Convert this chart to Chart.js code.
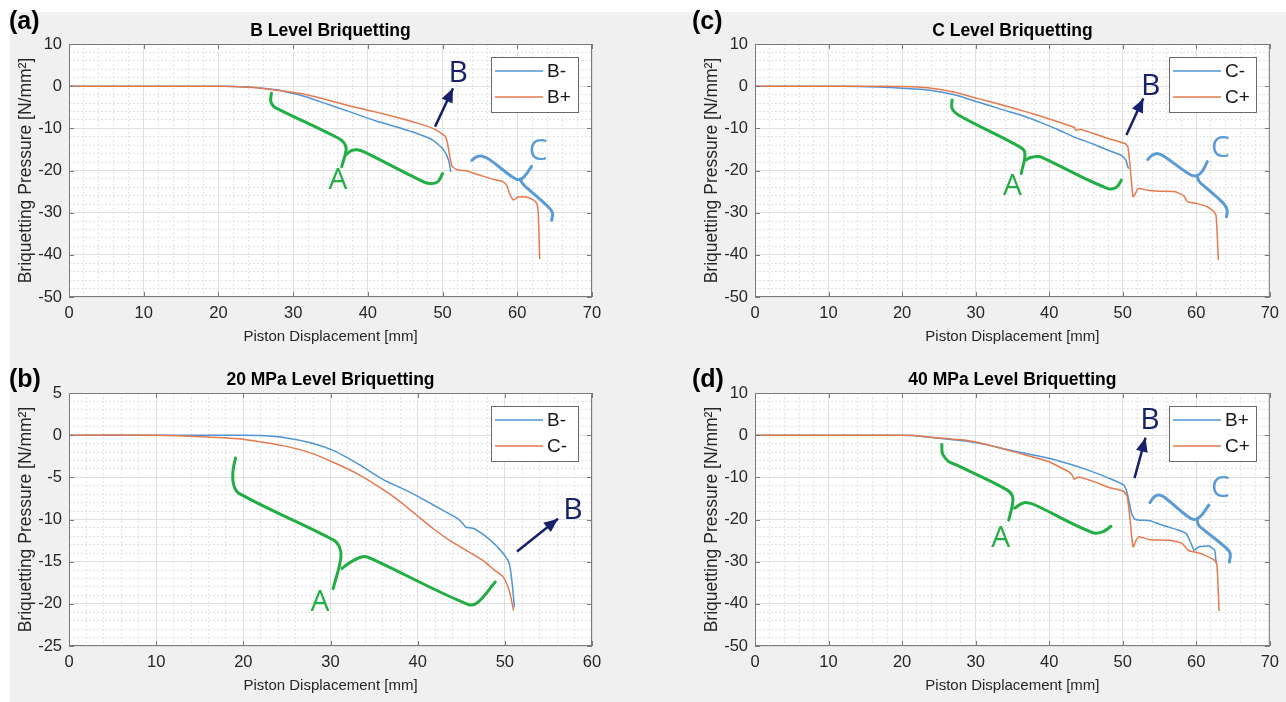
<!DOCTYPE html>
<html lang="en">
<head>
<meta charset="UTF-8">
<title>Briquetting Pressure vs Piston Displacement</title>
<script src="https://cdn.jsdelivr.net/npm/chart.js@4.4.1/dist/chart.umd.min.js"></script>
<style>
  body { margin: 0; width: 1286px; height: 702px; position: relative; overflow: hidden; background: #fff;
         font-family: "Liberation Sans", Arial, sans-serif; }
  #bg { position: absolute; left: 10px; top: 12px; width: 1276px; height: 690px; background: #f0f0f0; }
  .panel { position: absolute; }
  .tag { position: absolute; font-weight: bold; font-size: 25px; color: #000; }
</style>
</head>
<body>
<div id="bg"></div>
<div class="panel" style="left:0;top:0"><canvas id="chartA" width="640" height="350"></canvas></div>
<div class="panel" style="left:0;top:349px"><canvas id="chartB" width="640" height="350"></canvas></div>
<div class="panel" style="left:686px;top:0"><canvas id="chartC" width="600" height="350"></canvas></div>
<div class="panel" style="left:686px;top:349px"><canvas id="chartD" width="600" height="350"></canvas></div>
<div class="tag" style="left:9px;top:6px">(a)</div>
<div class="tag" style="left:9px;top:364px">(b)</div>
<div class="tag" style="left:692px;top:6px">(c)</div>
<div class="tag" style="left:692px;top:364px">(d)</div>

<script>
// ---- measured curves, [displacement mm, pressure N/mm2] ----

// (a) B level
const bMinusA = [[0,0],[20,0],[22,-0.05],[24.2,-0.2],[26,-0.5],[27.6,-0.8],[29,-1.3],[30.9,-2.1],[34,-3.9],
  [37.6,-6.1],[41,-8.2],[44.3,-9.9],[45.5,-10.6],[47,-11.5],[48.7,-12.8],[50.1,-15.0],[50.8,-17.5],[51.1,-20.3]];
const bPlusA = [[0,0],[20,0],[22,-0.1],[25,-0.4],[28,-1.0],[30.9,-1.7],[34,-3.0],[37.6,-4.7],[41,-6.1],
  [44.3,-7.6],[46.5,-8.7],[48.7,-10.0],[50.3,-11.8],[50.6,-13],[51.0,-17],[51.3,-19.1],[52.1,-19.9],[53.3,-20.1],
  [54.1,-20.6],[55.5,-21.4],[56.8,-22.1],[58.1,-22.7],[58.6,-23.6],[59.0,-25.6],[59.5,-27.0],[60.1,-26.3],
  [61.2,-26.3],[62.1,-26.9],[62.6,-27.8],[62.8,-30],[63.0,-41.0]];

// (b) 20 MPa level
const bMinusB = [[0,0],[20,0],[22,-0.05],[24.8,-0.3],[27.7,-0.9],[30.5,-1.9],[33.3,-3.5],[36.1,-5.3],[39,-6.7],
  [40.8,-7.7],[42.7,-8.8],[44.6,-9.9],[45.2,-10.5],[45.5,-10.9],[46.5,-11.1],[48.4,-12.5],[49.8,-14.0],
  [50.5,-15.2],[50.8,-17.2],[51.1,-20.4]];
const cMinusB = [[0,0],[10,0],[15.4,-0.2],[20.1,-0.5],[24.8,-1.3],[27.7,-2.1],[30.5,-3.3],[33.3,-4.7],[36.1,-6.5],
  [38,-7.9],[39.9,-9.5],[41.8,-11.1],[43.7,-12.5],[45.5,-13.6],[47.4,-14.8],[48.8,-16.0],[49.8,-16.8],
  [50.5,-18.4],[51.0,-20.8]];

// (c) C level
const cMinusC = [[0,0],[10,0],[14,-0.05],[16.8,-0.2],[20,-0.5],[23.5,-0.9],[27,-2.0],[30.2,-3.7],[33.5,-5.5],
  [36.9,-7.3],[39,-8.7],[41.3,-10.4],[43.6,-12.2],[45.8,-13.6],[48,-15.2],[49.8,-16.4],[50.4,-17.5],
  [50.7,-19.1],[50.8,-19.6]];
const cPlusC = [[0,0],[15,0],[20,-0.1],[23.5,-0.4],[27,-1.4],[30.2,-2.9],[33.5,-4.4],[36.9,-6.1],[39,-7.2],
  [41.3,-8.5],[43.4,-9.8],[43.7,-10.5],[44.2,-10.2],[45.8,-11.1],[48,-12.4],[50.3,-13.6],[50.7,-14.4],
  [51.0,-19],[51.4,-26.2],[51.7,-25.5],[52.1,-24.3],[53.4,-24.7],[55,-24.9],[57,-25.0],[58.3,-26.0],
  [58.8,-27.4],[60,-27.8],[61.5,-28.6],[62.4,-29.8],[62.7,-30.8],[63.0,-41.2]];

// (d) 40 MPa level
const bPlusD = [[0,0],[20,0],[21.5,-0.1],[23.2,-0.4],[26,-0.9],[28.7,-1.4],[31.5,-2.3],[34.3,-3.4],[37,-4.4],
  [39.8,-5.4],[43.1,-7.0],[45.3,-8.3],[48.1,-10.2],[50.1,-11.8],[50.6,-13.7],[51.2,-18.5],[51.7,-20.0],
  [53.7,-20.3],[55.3,-21.3],[57.5,-22.5],[58.6,-23.3],[59.2,-25.3],[59.7,-27.3],[60.3,-26.5],[61.7,-26.3],
  [62.5,-27.3],[62.7,-30.5]];
const cPlusD = [[0,0],[20,0],[21.5,-0.1],[23.2,-0.4],[26,-0.8],[28.7,-1.2],[31.5,-2.2],[34.3,-3.5],[37,-4.8],
  [39.8,-6.2],[41.5,-7.6],[42.6,-8.6],[43.1,-9.4],[43.4,-10.4],[44,-9.9],[46.4,-11.2],[48.1,-12.4],
  [50.1,-13.3],[50.6,-14.5],[51.0,-20],[51.4,-26.5],[51.8,-25],[52.2,-24.1],[53.7,-24.8],[56.4,-24.9],
  [58.1,-25.7],[58.9,-27.3],[60.8,-28.2],[62.5,-29.7],[62.8,-30.5],[63.1,-41.7]];

// ---- hand-drawn marks on the figure, in data units ----
const braceA_a = [[[27.1,-1.7],[27.0,-3.5],[27.4,-4.8],[28.2,-5.6],[36.0,-12.3],[36.8,-13.4],[37.1,-15.0],[36.5,-19.1]],
  [[37.1,-16.2],[37.8,-15.3],[38.6,-15.1],[39.5,-15.6],[47.6,-22.8],[48.6,-23.1],[49.4,-22.6],[50.0,-20.7]]];
const braceC_a = [[[53.9,-17.6],[54.6,-16.7],[55.3,-16.6],[56.2,-17.3],[59.4,-21.6],[60.3,-22.2],[61.0,-21.3],[61.9,-19.0]],
  [[60.4,-22.0],[60.8,-23.3],[61.4,-24.3],[63.9,-28.2],[64.7,-30.0],[64.6,-31.8]]];
const arrow_a = [[49.0,-9.6],[51.4,-0.5]];

const braceA_b = [[[19.1,-2.7],[18.8,-4.4],[18.9,-5.9],[19.5,-6.9],[30.3,-12.4],[31.0,-13.2],[31.2,-14.5],[30.3,-18.2]],
  [[31.3,-15.8],[32.4,-15.0],[33.8,-14.4],[34.8,-14.7],[45.6,-20.0],[46.8,-19.9],[48.9,-17.4]]];
const arrow_b = [[51.4,-13.8],[56.1,-9.9]];

const braceA_c = [[[26.8,-3.3],[26.8,-5.3],[27.7,-6.9],[36.0,-14.4],[36.7,-15.9],[36.2,-20.7]],
  [[36.8,-17.5],[37.5,-16.9],[38.6,-16.7],[39.5,-17.3],[48.0,-24.3],[49.2,-23.9],[49.8,-22.3]]];
const braceC_c = [[[53.4,-17.4],[54.0,-16.4],[54.8,-16.0],[55.6,-16.6],[59.2,-21.0],[60.1,-21.2],[60.8,-20.2],[61.5,-17.9]],
  [[60.1,-21.2],[60.4,-22.6],[61.0,-23.6],[63.7,-27.8],[64.2,-29.4],[64.1,-31.0]]];
const arrow_c = [[50.5,-11.6],[52.8,-2.9]];

const braceA_d = [[[25.4,-2.2],[25.5,-4.4],[26.3,-6.2],[27.3,-7.0],[34.2,-12.9],[35.0,-14.4],[35.0,-16.5],[34.5,-20.1]],
  [[35.3,-17.3],[36.2,-16.3],[37.0,-16.0],[38.0,-16.5],[45.9,-23.1],[47.3,-22.9],[48.4,-21.6]]];
const braceC_d = [[[53.7,-16.0],[54.3,-14.6],[55.0,-14.2],[55.8,-14.9],[59.2,-19.7],[60.0,-19.9],[60.8,-18.8],[61.7,-16.6]],
  [[60.1,-19.9],[60.3,-21.3],[60.9,-22.3],[63.9,-26.5],[64.6,-28.0],[64.5,-30.1]]];
const arrow_d = [[51.6,-10.2],[53.1,-0.6]];

const letters_a = [['A',36.0,-22.3],['B',52.1,3.1],['C',62.8,-15.6]];
const letters_b = [['A',28.8,-19.8],['B',57.8,-8.9]];
const letters_c = [['A',35.0,-23.9],['B',53.8,0.0],['C',63.3,-14.7]];
const letters_d = [['A',33.4,-24.5],['B',53.7,3.4],['C',63.3,-12.6]];

const BLUE = '#4f94d6', ORANGE = '#e57a4e';
const GREEN = '#22ad45', LIGHTBLUE = '#5b9bd5', NAVY = '#17206a';
const FONT = '"Liberation Sans", Arial, sans-serif';

const toXY = pts => pts.map(p => ({ x: p[0], y: p[1] }));

// white plot box, frame with inward ticks (matlab look)
const plotFrame = {
  id: 'plotFrame',
  beforeDraw(chart) {
    const { ctx, chartArea: a } = chart;
    ctx.save();
    ctx.fillStyle = '#fff';
    ctx.fillRect(a.left, a.top, a.width, a.height);
    ctx.restore();
  },
  afterDraw(chart) {
    const { ctx, chartArea: a, scales } = chart;
    ctx.save();
    ctx.strokeStyle = '#7a7a7a';
    ctx.lineWidth = 1;
    ctx.strokeRect(a.left + 0.5, a.top + 0.5, a.width - 1, a.height - 1);
    ctx.beginPath();
    scales.x.ticks.forEach(t => {
      const px = Math.round(scales.x.getPixelForValue(t.value)) + 0.5;
      ctx.moveTo(px, a.bottom); ctx.lineTo(px, a.bottom - 5);
      ctx.moveTo(px, a.top); ctx.lineTo(px, a.top + 5);
    });
    scales.y.ticks.forEach(t => {
      const py = Math.round(scales.y.getPixelForValue(t.value)) + 0.5;
      ctx.moveTo(a.left, py); ctx.lineTo(a.left + 5, py);
      ctx.moveTo(a.right, py); ctx.lineTo(a.right - 5, py);
    });
    ctx.stroke();
    ctx.restore();
  }
};

// arrow heads and A/B/C letters
const marks = {
  id: 'marks',
  afterDatasetsDraw(chart) {
    const { ctx, scales } = chart;
    ctx.save();
    chart.data.datasets.forEach((d, i) => {
      if (!d.arrow) return;
      const pts = chart.getDatasetMeta(i).data;
      const p0 = pts[pts.length - 2], p1 = pts[pts.length - 1];
      const ang = Math.atan2(p1.y - p0.y, p1.x - p0.x);
      ctx.fillStyle = d.borderColor;
      ctx.beginPath();
      ctx.moveTo(p1.x, p1.y);
      ctx.lineTo(p1.x - 14 * Math.cos(ang) + 6 * Math.sin(ang), p1.y - 14 * Math.sin(ang) - 6 * Math.cos(ang));
      ctx.lineTo(p1.x - 14 * Math.cos(ang) - 6 * Math.sin(ang), p1.y - 14 * Math.sin(ang) + 6 * Math.cos(ang));
      ctx.closePath();
      ctx.fill();
    });
    const letters = chart.options.plugins.marks.letters || [];
    ctx.font = '500 30px "Open Sans", "Noto Sans", sans-serif';
    ctx.textAlign = 'center';
    ctx.textBaseline = 'middle';
    letters.forEach(l => {
      ctx.fillStyle = l[0] === 'A' ? GREEN : (l[0] === 'B' ? NAVY : LIGHTBLUE);
      ctx.fillText(l[0], scales.x.getPixelForValue(l[1]), scales.y.getPixelForValue(l[2]));
    });
    ctx.restore();
  }
};

// legend box inside the plot, top right
const boxLegend = {
  id: 'boxLegend',
  afterDraw(chart) {
    const { ctx, chartArea: a } = chart;
    const items = chart.data.datasets.filter(d => d.inLegend);
    const w = 87, h = 55;
    const x0 = Math.round(a.right - 14 - w), y0 = Math.round(a.top + 13);
    ctx.save();
    ctx.fillStyle = '#fff';
    ctx.fillRect(x0, y0, w, h);
    ctx.strokeStyle = '#6a6a6a';
    ctx.lineWidth = 1;
    ctx.strokeRect(x0 + 0.5, y0 + 0.5, w, h);
    ctx.font = '19px ' + FONT;
    ctx.textAlign = 'left';
    ctx.textBaseline = 'middle';
    items.forEach((d, i) => {
      const y = y0 + 14 + i * 26;
      ctx.strokeStyle = d.borderColor;
      ctx.lineWidth = 1.5;
      ctx.beginPath();
      ctx.moveTo(x0 + 4, y);
      ctx.lineTo(x0 + 52, y);
      ctx.stroke();
      ctx.fillStyle = '#1a1a1a';
      ctx.fillText(d.label, x0 + 56, y + 1);
    });
    ctx.restore();
  }
};

function makePanel(id, p) {
  const datasets = [];
  p.series.forEach(s => datasets.push({
    label: s.label, data: toXY(s.pts), borderColor: s.color, borderWidth: 1.5,
    pointRadius: 0, tension: 0.2, inLegend: true, order: s.order
  }));
  p.braces.forEach(b => b.parts.forEach(part => datasets.push({
    data: toXY(part), borderColor: b.color, borderWidth: 3, pointRadius: 0,
    tension: 0.4, borderCapStyle: 'round', order: 0
  })));
  p.arrows.forEach(ar => datasets.push({
    data: toXY(ar), borderColor: NAVY, borderWidth: 2.5, pointRadius: 0, arrow: true, order: 0
  }));

  const tickFont = { family: FONT, size: 16.5 };
  new Chart(document.getElementById(id), {
    type: 'scatter',
    data: { datasets },
    options: {
      responsive: false,
      animation: false,
      showLine: true,
      layout: { padding: { left: 0, right: p.padRight, top: 0, bottom: 0 } },
      plugins: {
        legend: { display: false },
        tooltip: { enabled: false },
        title: {
          display: true, text: p.title, fullSize: false, color: '#000',
          font: { family: FONT, size: 17.5, weight: 'bold' }, padding: { top: 21, bottom: 2 }
        },
        marks: { letters: p.letters }
      },
      scales: {
        x: {
          type: 'linear', position: 'bottom', min: 0, max: p.xMax,
          ticks: { stepSize: 10, autoSkip: false, padding: 7, color: '#262626', font: tickFont, maxRotation: 0 },
          grid: { color: '#dcdcdc', drawTicks: false },
          border: { display: false },
          title: { display: true, text: 'Piston Displacement [mm]', color: '#262626',
                   font: { family: FONT, size: 15 }, padding: { top: 0, bottom: 4 } },
          afterFit: s => { s.height = 53; }
        },
        xMinor: {
          type: 'linear', position: 'bottom', min: 0, max: p.xMax,
          ticks: { stepSize: 2, display: false },
          grid: { color: '#e2e2e2', drawTicks: false },
          border: { display: false, dash: [2, 2] },
          afterFit: s => { s.height = 0; }
        },
        y: {
          type: 'linear', position: 'left', min: p.yMin, max: p.yMax,
          ticks: { stepSize: p.yStep, autoSkip: false, padding: 7, color: '#262626', font: tickFont },
          grid: { color: '#dcdcdc', drawTicks: false },
          border: { display: false },
          title: { display: true, text: 'Briquetting Pressure [N/mm²]', color: '#262626',
                   font: { family: FONT, size: 17.5 }, padding: { top: 16, bottom: 0 } },
          afterFit: s => { s.width = 69; }
        },
        yMinor: {
          type: 'linear', position: 'left', min: p.yMin, max: p.yMax,
          ticks: { stepSize: p.yMinor, display: false },
          grid: { color: '#e2e2e2', drawTicks: false },
          border: { display: false, dash: [2, 2] },
          afterFit: s => { s.width = 0; }
        }
      }
    },
    plugins: [plotFrame, marks, boxLegend]
  });
}

makePanel('chartA', {
  title: 'B Level Briquetting', xMax: 70, yMin: -50, yMax: 10, yStep: 10, yMinor: 2, padRight: 48,
  series: [{ label: 'B-', pts: bMinusA, color: BLUE, order: 2 }, { label: 'B+', pts: bPlusA, color: ORANGE, order: 1 }],
  braces: [{ parts: braceA_a, color: GREEN }, { parts: braceC_a, color: LIGHTBLUE }],
  arrows: [arrow_a], letters: letters_a
});
makePanel('chartB', {
  title: '20 MPa Level Briquetting', xMax: 60, yMin: -25, yMax: 5, yStep: 5, yMinor: 1, padRight: 48,
  series: [{ label: 'B-', pts: bMinusB, color: BLUE, order: 2 }, { label: 'C-', pts: cMinusB, color: ORANGE, order: 1 }],
  braces: [{ parts: braceA_b, color: GREEN }],
  arrows: [arrow_b], letters: letters_b
});
makePanel('chartC', {
  title: 'C Level Briquetting', xMax: 70, yMin: -50, yMax: 10, yStep: 10, yMinor: 2, padRight: 9,
  series: [{ label: 'C-', pts: cMinusC, color: BLUE, order: 2 }, { label: 'C+', pts: cPlusC, color: ORANGE, order: 1 }],
  braces: [{ parts: braceA_c, color: GREEN }, { parts: braceC_c, color: LIGHTBLUE }],
  arrows: [arrow_c], letters: letters_c
});
makePanel('chartD', {
  title: '40 MPa Level Briquetting', xMax: 70, yMin: -50, yMax: 10, yStep: 10, yMinor: 2, padRight: 9,
  series: [{ label: 'B+', pts: bPlusD, color: BLUE, order: 2 }, { label: 'C+', pts: cPlusD, color: ORANGE, order: 1 }],
  braces: [{ parts: braceA_d, color: GREEN }, { parts: braceC_d, color: LIGHTBLUE }],
  arrows: [arrow_d], letters: letters_d
});
</script>
</body>
</html>
